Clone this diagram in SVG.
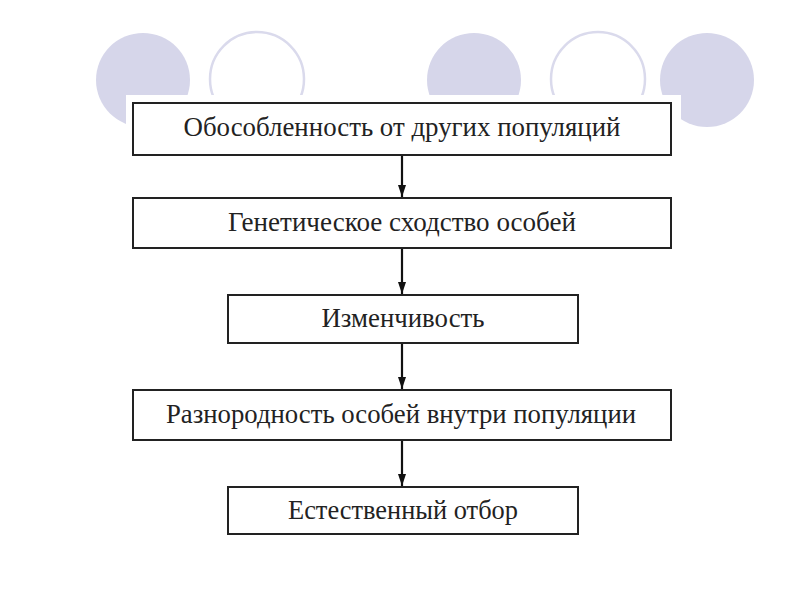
<svg xmlns="http://www.w3.org/2000/svg" width="800" height="600" viewBox="0 0 800 600">
<style>
.fill{fill:#d6d6ea;stroke:none}
.ring{fill:none;stroke:#dadaec;stroke-width:2.5}
.box{fill:#fff;stroke:#222;stroke-width:2}
.lbl{font-family:"Liberation Serif","Times New Roman",serif;font-size:27px;fill:#222;text-anchor:middle}
.conn{stroke:#111;stroke-width:2.2;fill:none}
</style>
<defs>
<marker id="ah" markerWidth="12" markerHeight="8" refX="10" refY="5" orient="auto" markerUnits="userSpaceOnUse" viewBox="0 0 10 10" preserveAspectRatio="none">
<path d="M0,0 L10,5 L0,10 z" fill="#111"/>
</marker>
</defs>
<rect width="800" height="600" fill="#fff"/>
<g id="decor">
<circle class="fill" cx="143" cy="80" r="47"/>
<circle class="ring" cx="257" cy="79" r="47"/>
<circle class="fill" cx="474" cy="80" r="47"/>
<circle class="ring" cx="598" cy="79" r="47"/>
<circle class="fill" cx="707" cy="80" r="47"/>
<rect x="126" y="95" width="555" height="465" fill="#fff"/>
</g>
<g id="connectors">
<line class="conn" x1="402" y1="155" x2="402" y2="197" marker-end="url(#ah)"/>
<line class="conn" x1="402" y1="248" x2="402" y2="294" marker-end="url(#ah)"/>
<line class="conn" x1="402" y1="343" x2="402" y2="389" marker-end="url(#ah)"/>
<line class="conn" x1="402" y1="440" x2="402" y2="486" marker-end="url(#ah)"/>
</g>
<g id="n1">
<rect class="box" x="133" y="103" width="538" height="52"/>
<text class="lbl" x="402" y="136" textLength="437" lengthAdjust="spacingAndGlyphs">Обособленность от других популяций</text>
</g>
<g id="n2">
<rect class="box" x="133" y="198" width="538" height="50"/>
<text class="lbl" x="402" y="231" textLength="348" lengthAdjust="spacingAndGlyphs">Генетическое сходство особей</text>
</g>
<g id="n3">
<rect class="box" x="228" y="295" width="350" height="48"/>
<text class="lbl" x="403" y="327" textLength="163" lengthAdjust="spacingAndGlyphs">Изменчивость</text>
</g>
<g id="n4">
<rect class="box" x="133" y="390" width="538" height="50"/>
<text class="lbl" x="401" y="423" textLength="470" lengthAdjust="spacingAndGlyphs">Разнородность особей внутри популяции</text>
</g>
<g id="n5">
<rect class="box" x="228" y="487" width="350" height="47"/>
<text class="lbl" x="403" y="519" textLength="230" lengthAdjust="spacingAndGlyphs">Естественный отбор</text>
</g>
</svg>
